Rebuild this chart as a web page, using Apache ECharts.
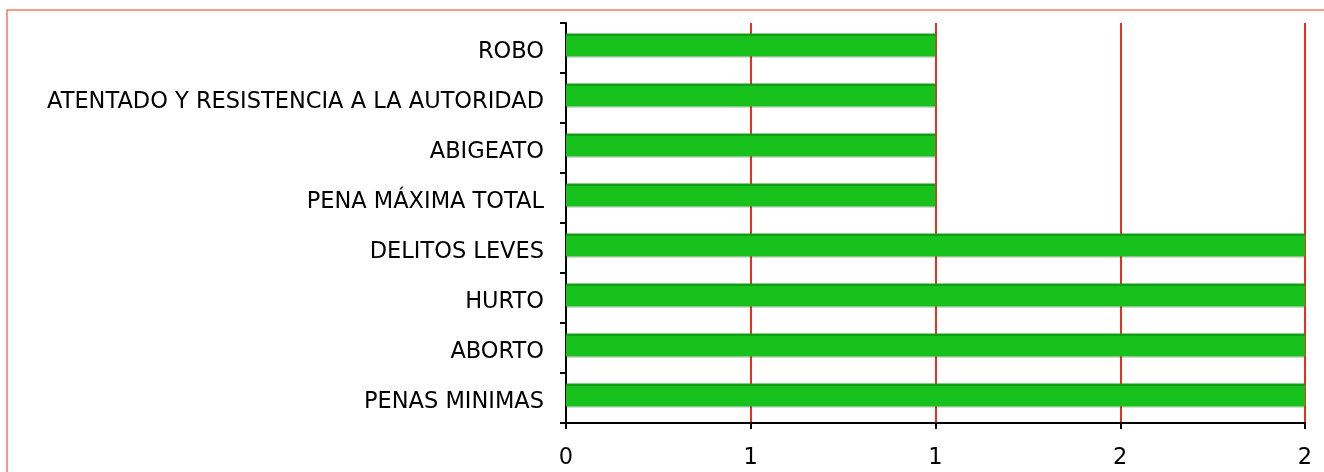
<!DOCTYPE html>
<html>
<head>
<meta charset="utf-8">
<script src="https://cdn.jsdelivr.net/npm/echarts@6/dist/echarts.min.js"></script>
<style>
  html, body { margin: 0; padding: 0; background: #fff; }
  #chart { width: 1324px; height: 472px; }
</style>
</head>
<body>
<div id="chart"></div>
<script>
// categories bottom-to-top like the original
var categories = ['PENAS MINIMAS', 'ABORTO', 'HURTO', 'DELITOS LEVES',
  'PENA MÁXIMA TOTAL', 'ABIGEATO', 'ATENTADO Y RESISTENCIA A LA AUTORIDAD', 'ROBO'];
var values = [2, 2, 2, 2, 1, 1, 1, 1];
var spacer = ['-', '-', '-', '-', '-', '-', '-', '-'];

var chart = echarts.init(document.getElementById('chart'));
var font = 'DejaVu Sans';

chart.setOption({
  animation: false,
  graphic: [{
    type: 'rect',
    shape: { x: 7, y: 10, width: 1340, height: 500 },
    style: { fill: 'none', stroke: '#f07a68', lineWidth: 1.5 },
    silent: true
  }],
  grid: { left: 566, right: 19, top: 23, bottom: 49 },
  xAxis: {
    type: 'value',
    min: 0,
    max: 2,
    interval: 0.5,
    axisLine: { show: true, lineStyle: { color: '#000', width: 2 } },
    axisTick: { show: true, length: 6, lineStyle: { color: '#000', width: 2 } },
    axisLabel: {
      margin: 24,
      fontFamily: font,
      fontSize: 22.5,
      color: '#000',
      formatter: function (v) { return Math.round(v); }
    },
    splitLine: { show: true, lineStyle: { color: '#e8321e', width: 2 } }
  },
  yAxis: {
    type: 'category',
    data: categories,
    axisLine: { show: true, lineStyle: { color: '#000', width: 2 } },
    axisTick: { show: true, length: 6, lineStyle: { color: '#000', width: 2 } },
    axisLabel: {
      margin: 22,
      formatter: function (v) { return '{a|' + v + '}'; },
      rich: {
        a: {
          fontFamily: font,
          fontSize: 22.5,
          color: '#000',
          padding: [8, 0, 0, 0]
        }
      }
    }
  },
  series: [{
    type: 'bar',
    data: values,
    barWidth: 23,
    barGap: 0,
    itemStyle: {
      color: {
        type: 'linear', x: 0, y: 0, x2: 0, y2: 1,
        colorStops: [
          { offset: 0, color: '#109e14' },
          { offset: 0.1, color: '#109e14' },
          { offset: 0.11, color: '#17c21d' },
          { offset: 1, color: '#17c21d' }
        ]
      },
      shadowColor: 'rgba(0,0,0,0.15)',
      shadowOffsetY: 1.5,
      shadowBlur: 0
    }
  }, {
    type: 'bar',
    data: spacer,
    barWidth: 6,
    barGap: 0
  }]
});
</script>
</body>
</html>
